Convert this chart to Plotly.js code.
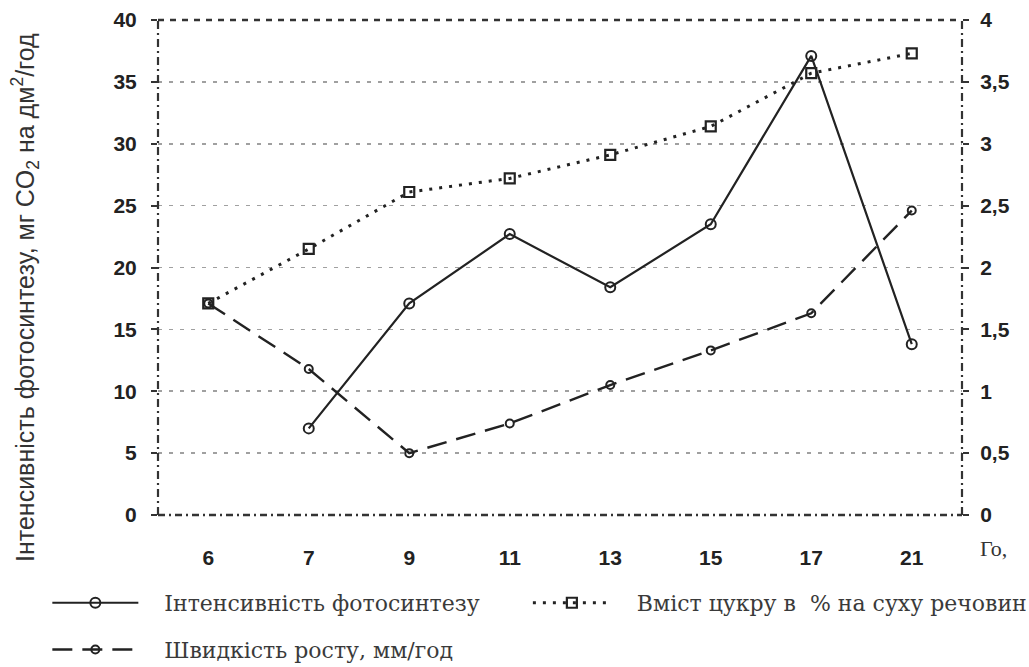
<!DOCTYPE html>
<html>
<head>
<meta charset="utf-8">
<script src="https://cdn.plot.ly/plotly-3.0.1.min.js"></script>
<style>html,body{margin:0;padding:0;background:#fff;}#chart{width:1029px;height:667px;}</style>
</head>
<body>
<div id="chart"></div>
<script>
const hours = ['6', '7', '9', '11', '13', '15', '17', '21'];
const photosynthesis = [null, 7.0, 17.1, 22.7, 18.4, 23.5, 37.1, 13.8];
const sugar = [1.71, 2.15, 2.61, 2.72, 2.91, 3.14, 3.57, 3.73];
const growth = [17.1, 11.8, 5.0, 7.4, 10.5, 13.3, 16.3, 24.6];

const nameP = 'Інтенсивність фотосинтезу';
const nameS = 'Вміст цукру в  % на суху речовин';
const nameG = 'Швидкість росту, мм/год';
const yTitle = 'Інтенсивність фотосинтезу, мг CO<sub>2</sub> на дм<sup>2</sup>/год';

const ink = '#222';
const pad = '\u00a0\u00a0\u00a0';
const traces = [
  {x: hours, y: photosynthesis, name: pad + nameP, type: 'scatter', mode: 'lines+markers',
   line: {color: ink, width: 2.2}, marker: {symbol: 'circle-open', size: 10, color: ink, line: {width: 2}},
   legend: 'legend'},
  {x: hours, y: sugar, name: pad + nameS, type: 'scatter', mode: 'lines+markers', yaxis: 'y2',
   line: {color: ink, width: 3, dash: '3px,7px'}, marker: {symbol: 'square-open', size: 10, color: ink, line: {width: 2.2}},
   legend: 'legend2'},
  {x: hours, y: growth, name: pad + nameG, type: 'scatter', mode: 'lines+markers',
   line: {color: ink, width: 2.4, dash: '20px,10px'}, marker: {symbol: 'circle-open', size: 8, color: ink, line: {width: 2}},
   legend: 'legend3'}
];

const tickFont = {family: 'Liberation Sans, Arial, sans-serif', size: 21, color: '#222', weight: 'bold'};
const legFont = {family: 'DejaVu Serif, Liberation Serif, serif', size: 22, color: '#3a3a3a'};
const gridStyle = {showgrid: true, gridcolor: '#a0a0a0', gridwidth: 1.6, griddash: '4px,7px'};

const layout = {
  width: 1029, height: 667,
  margin: {l: 158, r: 67, t: 20, b: 152, autoexpand: false},
  paper_bgcolor: '#fff', plot_bgcolor: '#fff',
  separators: ', ',
  showlegend: true,
  xaxis: {type: 'category', range: [-0.5, 7.5], showgrid: false, zeroline: false, showline: false,
          ticks: '', tickfont: tickFont, ticklabelstandoff: 28, automargin: false},
  yaxis: Object.assign({range: [0, 40], dtick: 5, tick0: 0, zeroline: false, showline: false, automargin: false,
          ticks: 'outside', ticklen: 6, tickwidth: 2, tickcolor: '#333', tickfont: tickFont, ticklabelstandoff: 10}, gridStyle),
  yaxis2: {overlaying: 'y', side: 'right', range: [0, 4], dtick: 0.5, tick0: 0, showgrid: false, zeroline: false, showline: false,
           automargin: false, ticks: 'outside', ticklen: 6, tickwidth: 2, tickcolor: '#333', tickfont: tickFont, ticklabelstandoff: 7},
  legend: {xref: 'container', yref: 'container', x: 0.046, y: 0.096, xanchor: 'left', yanchor: 'middle',
           font: legFont, itemwidth: 86, bgcolor: 'rgba(0,0,0,0)'},
  legend2: {xref: 'container', yref: 'container', x: 0.513, y: 0.096, xanchor: 'left', yanchor: 'middle',
           font: legFont, itemwidth: 78, bgcolor: 'rgba(0,0,0,0)'},
  legend3: {xref: 'container', yref: 'container', x: 0.046, y: 0.026, xanchor: 'left', yanchor: 'middle',
           font: legFont, itemwidth: 86, bgcolor: 'rgba(0,0,0,0)'},
  shapes: [
    {type: 'line', xref: 'paper', yref: 'paper', x0: 0, x1: 1, y0: 1, y1: 1, line: {color: '#333', width: 2.5, dash: '6px,6px'}},
    {type: 'line', xref: 'paper', yref: 'paper', x0: 0, x1: 1, y0: 0, y1: 0, line: {color: '#333', width: 2.5, dash: '7px,4px,2px,4px'}},
    {type: 'line', xref: 'paper', yref: 'paper', x0: 0, x1: 0, y0: 0, y1: 1, line: {color: '#333', width: 2.2, dash: '8px,4px,2px,4px'}},
    {type: 'line', xref: 'paper', yref: 'paper', x0: 1, x1: 1, y0: 0, y1: 1, line: {color: '#333', width: 2.2, dash: '8px,4px,2px,4px'}}
  ],
  annotations: [
    {text: yTitle, xref: 'paper', yref: 'paper', x: -133 / 804, y: (515 - 298) / 495, xanchor: 'center', yanchor: 'middle',
     textangle: -90, showarrow: false, font: {family: 'Liberation Sans, Arial, sans-serif', size: 25, color: '#333'}},
    {text: 'Го,', xref: 'paper', yref: 'paper', x: 820 / 804, y: -33 / 495, xanchor: 'left', yanchor: 'middle',
     showarrow: false, font: {family: 'Liberation Serif, Times New Roman, serif', size: 22, color: '#333'}}
  ]
};

Plotly.newPlot('chart', traces, layout, {displayModeBar: false, staticPlot: true});
</script>
</body>
</html>
